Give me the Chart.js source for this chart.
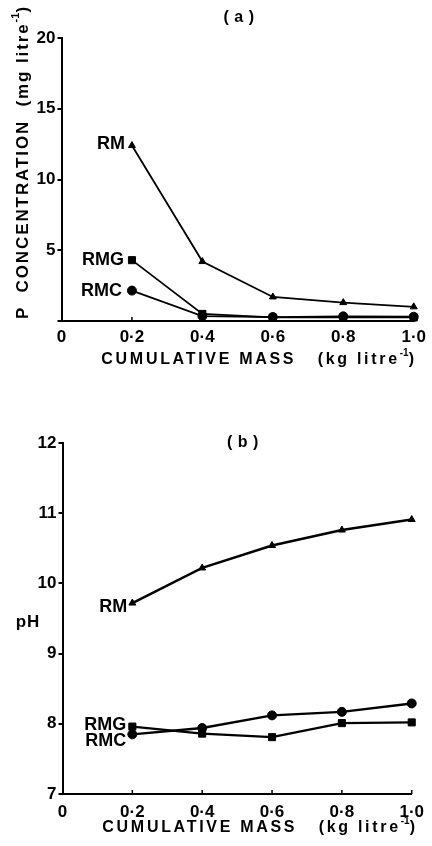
<!DOCTYPE html>
<html>
<head>
<meta charset="utf-8">
<script src="https://cdn.jsdelivr.net/npm/chart.js@4/dist/chart.umd.min.js"></script>
<style>
  html, body { margin: 0; padding: 0; background: #fff; }
  #wrap { position: relative; width: 432px; height: 846px; }
  canvas { position: absolute; left: 0; }
  #chartP { top: 0; }
  #chartPH { top: 423px; }
</style>
</head>
<body>
<div id="wrap">
  <canvas id="chartP" width="432" height="423"></canvas>
  <canvas id="chartPH" width="432" height="423"></canvas>
</div>
<script>
// Cumulative mass of residue (kg per litre) and the tick labels of that axis
const massValues = [0.2, 0.4, 0.6, 0.8, 1.0];
const massTickLabels = ['0', '0·2', '0·4', '0·6', '0·8', '1·0'];

// Residue treatments
const seriesNames = ['RM', 'RMG', 'RMC'];

// (a) P concentration in leachate, mg per litre
const pConcRM  = [12.4, 4.2, 1.7, 1.3, 1.0];
const pConcRMG = [4.3, 0.5, 0.25, 0.25, 0.25];
const pConcRMC = [2.15, 0.35, 0.28, 0.33, 0.3];
const pConcTicks = [0, 5, 10, 15, 20];

// (b) pH of leachate
const phRM  = [9.72, 10.22, 10.54, 10.76, 10.91];
const phRMG = [7.96, 7.86, 7.81, 8.01, 8.02];
const phRMC = [7.85, 7.94, 8.12, 8.17, 8.29];
const phTicks = [7, 8, 9, 10, 11, 12];

const FONT = '"Liberation Sans", Helvetica, Arial, sans-serif';

function points(values) {
  return massValues.map((x, i) => ({ x: x, y: values[i] }));
}

// Draws a label made of normal and superscript runs, centred on (cx, cy)
function drawRich(ctx, parts, cx, cy, rotate, size, spacing) {
  ctx.save();
  ctx.translate(cx, cy);
  if (rotate) ctx.rotate(-Math.PI / 2);
  ctx.fillStyle = '#000';
  ctx.textBaseline = 'middle';
  ctx.textAlign = 'left';
  const supSize = Math.round(size * 0.62);
  const setFont = (p) => {
    ctx.font = 'bold ' + (p.sup ? supSize : size) + 'px ' + FONT;
    if ('letterSpacing' in ctx) ctx.letterSpacing = (p.sup ? 0 : spacing) + 'px';
  };
  const widths = parts.map(p => { setFont(p); return ctx.measureText(p.t).width; });
  const total = widths.reduce((a, b) => a + b, 0);
  let x = -total / 2;
  parts.forEach((p, i) => {
    setFont(p);
    ctx.fillText(p.t, x, p.sup ? -size * 0.42 : 0);
    x += widths[i];
  });
  if ('letterSpacing' in ctx) ctx.letterSpacing = '0px';
  ctx.restore();
}

// Panel decorations: panel tag, axis titles, series names and inner x ticks
function decorations(cfg) {
  return {
    id: 'decorations',
    afterDatasetsDraw(chart) {
      const ctx = chart.ctx;
      const xs = chart.scales.x;
      const yArea = chart.chartArea;

      // short inward ticks on the mass axis
      ctx.save();
      ctx.strokeStyle = '#000';
      ctx.lineWidth = 1.5;
      massValues.forEach(v => {
        const px = xs.getPixelForValue(v);
        ctx.beginPath();
        ctx.moveTo(px, yArea.bottom);
        ctx.lineTo(px, yArea.bottom - 4);
        ctx.stroke();
      });
      ctx.restore();

      // series names beside the first point of each line
      chart.data.datasets.forEach((ds, i) => {
        const first = chart.getDatasetMeta(i).data[0];
        const off = cfg.tagOffsets[ds.label];
        ctx.save();
        ctx.fillStyle = '#000';
        ctx.font = 'bold 18px ' + FONT;
        ctx.textAlign = 'right';
        ctx.textBaseline = 'middle';
        ctx.fillText(ds.label, first.x - off.gap, first.y + off.dy);
        ctx.restore();
      });

      // panel tag
      drawRich(ctx, [{ t: cfg.tag }], cfg.tagPos[0], cfg.tagPos[1], false, 16, 0.5);
      // axis titles
      drawRich(ctx, cfg.xTitle, cfg.xTitlePos[0], cfg.xTitlePos[1], false, 16, 2.7);
      drawRich(ctx, cfg.yTitle, cfg.yTitlePos[0], cfg.yTitlePos[1], cfg.yRotate, cfg.yTitleSize, cfg.yTitleSpacing);
    }
  };
}

function lineSet(label, values, style, radius, width) {
  return {
    label: label,
    data: points(values),
    borderColor: '#000',
    backgroundColor: '#000',
    borderWidth: width,
    pointStyle: style,
    pointRadius: radius,
    pointBackgroundColor: '#000',
    pointBorderColor: '#000',
    pointBorderWidth: 1,
    tension: 0,
    clip: false
  };
}

function axisOptions(yMin, yMax, yStep, yTickList, yWidth, xHeight, xPad, hideZero) {
  return {
    x: {
      type: 'linear', min: 0, max: 1,
      afterFit(s) { s.height = xHeight; },
      ticks: {
        stepSize: 0.2, padding: xPad, color: '#000', maxRotation: 0, autoSkip: false,
        font: { family: FONT, size: 17, weight: 'bold' },
        callback: (v) => massTickLabels[Math.round(v / 0.2)]
      },
      grid: { display: false, drawTicks: false },
      border: { display: true, color: '#000', width: 2 }
    },
    y: {
      type: 'linear', min: yMin, max: yMax,
      afterFit(s) { s.width = yWidth; },
      afterBuildTicks(s) { s.ticks = yTickList.map(v => ({ value: v })); },
      ticks: {
        stepSize: yStep, padding: 2, color: '#000',
        font: { family: FONT, size: 17, weight: 'bold' },
        callback: (v) => (hideZero && v === 0) ? '' : String(v)
      },
      grid: { display: true, drawOnChartArea: false, drawTicks: true, tickLength: 4, color: '#000', lineWidth: 2 },
      border: { display: true, color: '#000', width: 2 }
    }
  };
}

// (a) P concentration
new Chart(document.getElementById('chartP'), {
  type: 'line',
  data: {
    datasets: [
      lineSet(seriesNames[0], pConcRM, 'triangle', 4, 1.8),
      lineSet(seriesNames[1], pConcRMG, 'rect', 5, 1.8),
      lineSet(seriesNames[2], pConcRMC, 'circle', 4.5, 1.8)
    ]
  },
  options: {
    responsive: false, animation: false, devicePixelRatio: 1,
    layout: { padding: { left: 0, right: 13, top: 38, bottom: 54 } },
    plugins: { legend: { display: false }, tooltip: { enabled: false } },
    scales: axisOptions(0, 20, 5, pConcTicks, 61.5, 48, 6, true)
  },
  plugins: [decorations({
    tag: '( a )', tagPos: [239, 18],
    xTitle: [{ t: 'CUMULATIVE MASS   (kg litre' }, { t: '-1', sup: true }, { t: ')' }],
    xTitlePos: [259, 360],
    yTitle: [{ t: 'P  CONCENTRATION  (mg litre' }, { t: '-1', sup: true }, { t: ')' }],
    yTitlePos: [23, 162], yRotate: true, yTitleSize: 17, yTitleSpacing: 1.9,
    tagOffsets: { RM: { gap: 7, dy: -2 }, RMG: { gap: 8, dy: 0 }, RMC: { gap: 10, dy: 0 } }
  })]
});

// (b) pH
new Chart(document.getElementById('chartPH'), {
  type: 'line',
  data: {
    datasets: [
      lineSet(seriesNames[0], phRM, 'triangle', 4, 2.4),
      lineSet(seriesNames[1], phRMG, 'rect', 5, 2.4),
      lineSet(seriesNames[2], phRMC, 'circle', 4.5, 2.4)
    ]
  },
  options: {
    responsive: false, animation: false, devicePixelRatio: 1,
    layout: { padding: { left: 0, right: 13, top: 20, bottom: 9 } },
    plugins: { legend: { display: false }, tooltip: { enabled: false } },
    scales: axisOptions(7, 12, 1, phTicks, 62.5, 43, 8, false)
  },
  plugins: [decorations({
    tag: '( b )', tagPos: [243, 20],
    xTitle: [{ t: 'CUMULATIVE MASS   (kg litre' }, { t: '-1', sup: true }, { t: ')' }],
    xTitlePos: [260, 405],
    yTitle: [{ t: 'pH' }],
    yTitlePos: [28, 199], yRotate: false, yTitleSize: 17, yTitleSpacing: 1,
    tagOffsets: { RM: { gap: 5, dy: 4 }, RMG: { gap: 6, dy: -2 }, RMC: { gap: 6, dy: 7 } }
  })]
});
</script>
</body>
</html>
